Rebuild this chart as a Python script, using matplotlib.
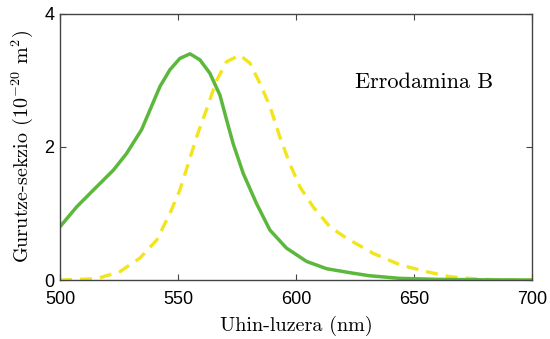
import matplotlib
matplotlib.use("Agg")
import matplotlib.pyplot as plt

plt.rcParams["mathtext.fontset"] = "cm"

# curva verde (continua)
wl_g = [500, 507.1, 514.1, 522.6, 528.2, 534.6, 538.8, 542.4, 546.6, 550.8, 555.1, 559.3,
        563.5, 567.8, 570.6, 573.4, 577.7, 583.3, 589, 596, 604.5, 613, 622.9, 631, 644, 660, 680, 700]
sig_g = [0.80, 1.10, 1.35, 1.65, 1.90, 2.26, 2.61, 2.91, 3.16, 3.33, 3.40, 3.31,
         3.11, 2.78, 2.41, 2.05, 1.60, 1.15, 0.75, 0.48, 0.28, 0.17, 0.11, 0.065, 0.025, 0.01, 0.003, 0.0]

# curva amarilla (discontinua)
wl_y = [500, 515.5, 525.4, 533.9, 541, 546.6, 550.8, 554.4, 557.9, 562.1, 566.4, 570.6, 576.2,
        580.5, 584.7, 589, 593.2, 597.4, 601.7, 607.3, 614.4, 621.4, 632.8, 644, 655.4, 665.3, 675, 687, 700]
sig_y = [0.0, 0.02, 0.125, 0.33, 0.60, 1.0, 1.35, 1.75, 2.15, 2.56, 3.0, 3.28, 3.38,
         3.26, 2.96, 2.61, 2.15, 1.75, 1.40, 1.10, 0.80, 0.63, 0.40, 0.23, 0.125, 0.05, 0.02, 0.0, 0.0]

xt = [500, 550, 600, 650, 700]
yt = [0, 2, 4]

fig = plt.figure(figsize=(5.5, 3.39), dpi=100)
ax = fig.add_axes([0.109, 0.174, 0.858, 0.785])

ax.plot(wl_y, sig_y, color="#f2e51d", lw=2.4, dashes=(3.6, 2.4))
ax.plot(wl_g, sig_g, color="#5cb83c", lw=2.5, solid_joinstyle="round")

ax.set_xlim(500, 700)
ax.set_ylim(0, 4)
ax.set_xticks(xt)
ax.set_yticks(yt)
ax.tick_params(direction="in", top=True, right=True, labelsize=13, length=4, color="#444444")
ax.tick_params(axis="x", pad=8)
ax.tick_params(axis="y", pad=4)
for s in ax.spines.values():
    s.set_color("#444444")
    s.set_linewidth(1.0)
for lab in ax.get_xticklabels() + ax.get_yticklabels():
    lab.set_family("Liberation Sans")

ax.set_xlabel("Uhin-luzera (nm)", family="cmr10", fontsize=14.5, labelpad=5.5)
ax.set_ylabel(r"Gurutze-sekzio (10$^{-20}$ m$^2$)", family="cmr10", fontsize=14.5, labelpad=7)
ax.text(625, 2.98, "Errodamina B", family="cmr10", fontsize=16, va="center", ha="left")

fig.savefig("out.png", dpi=100)
